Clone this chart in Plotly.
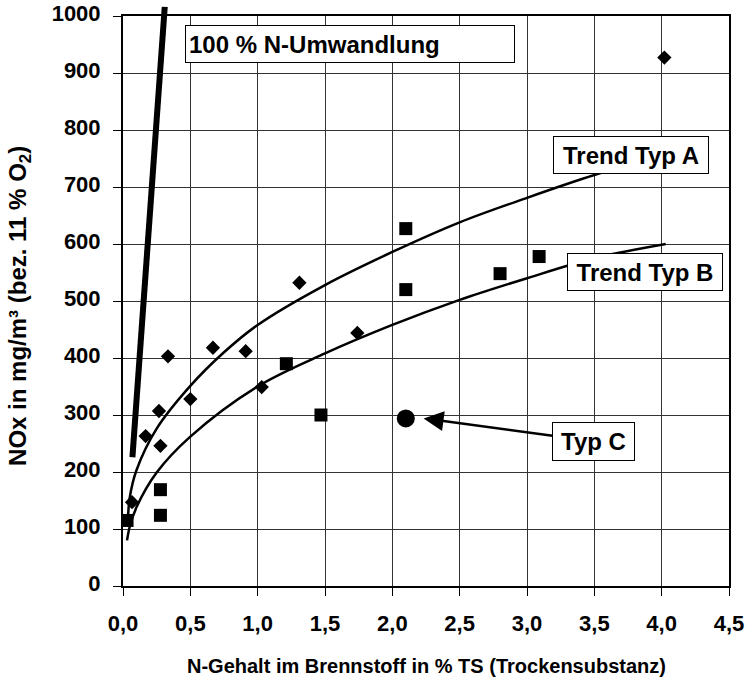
import plotly.graph_objects as go

# ---- data ----
typA_x = [0.067, 0.168, 0.267, 0.278, 0.334, 0.50, 0.668, 0.911, 1.03, 1.31, 1.74, 4.02]
typA_y = [147, 263, 307, 246, 403, 328, 418, 412, 349, 532, 444, 927]

typB_x = [0.03, 0.278, 0.278, 1.213, 1.47, 2.10, 2.10, 2.80, 3.09]
typB_y = [115, 169, 124, 390, 300, 627, 520, 548, 578]

typC_x = [2.10]
typC_y = [294]

trendA_x = [0.037, 0.05, 0.1, 0.25, 0.5, 0.75, 1.0, 1.5, 2.0, 2.5, 3.0, 3.5, 4.0]
trendA_y = [118, 155, 203, 276, 351, 410, 458, 528, 586, 638, 681, 721, 755]

trendB_x = [0.03, 0.05, 0.1, 0.25, 0.5, 1.0, 1.5, 2.0, 2.5, 3.0, 3.5, 4.03]
trendB_y = [80, 104, 138, 199, 262, 350, 408, 458, 502, 540, 575, 600]

umwandlung_x = [0.07, 0.31]
umwandlung_y = [226, 1016]

x_ticks = [0.0, 0.5, 1.0, 1.5, 2.0, 2.5, 3.0, 3.5, 4.0, 4.5]
y_ticks = [0, 100, 200, 300, 400, 500, 600, 700, 800, 900, 1000]

X_RANGE = [0, 4.5]
Y_RANGE = [0, 1000]

FONT = "Liberation Sans, Arial, sans-serif"

fig = go.Figure()

fig.add_trace(go.Scatter(x=trendA_x, y=trendA_y, mode="lines",
                         line=dict(color="black", width=2.5, shape="spline"),
                         showlegend=False, hoverinfo="skip"))
fig.add_trace(go.Scatter(x=trendB_x, y=trendB_y, mode="lines",
                         line=dict(color="black", width=2.5, shape="spline"),
                         showlegend=False, hoverinfo="skip"))

fig.add_trace(go.Scatter(x=typA_x, y=typA_y, mode="markers", name="Typ A",
                         marker=dict(symbol="diamond", size=11, color="black"),
                         showlegend=False))
fig.add_trace(go.Scatter(x=typB_x, y=typB_y, mode="markers", name="Typ B",
                         marker=dict(symbol="square", size=13, color="black"),
                         showlegend=False))
fig.add_trace(go.Scatter(x=typC_x, y=typC_y, mode="markers", name="Typ C",
                         marker=dict(symbol="circle", size=18, color="black"),
                         showlegend=False))


def to_px(v, rng):
    return (v - rng[0]) / (rng[1] - rng[0])


# thick 100 % line (extends slightly above the plot area, so draw in paper coords)
fig.add_shape(type="line", xref="paper", yref="paper",
              x0=to_px(umwandlung_x[0], X_RANGE), y0=to_px(umwandlung_y[0], Y_RANGE),
              x1=to_px(umwandlung_x[1], X_RANGE), y1=to_px(umwandlung_y[1], Y_RANGE),
              line=dict(color="black", width=6), layer="above")

ann_font = dict(family=FONT, size=24, color="black", weight="bold")

fig.add_annotation(x=0.458, y=984, xref="x", yref="y", xanchor="left", yanchor="top",
                   text="100 % N-Umwandlung", showarrow=False, font=ann_font,
                   width=322, height=30, align="left", valign="middle",
                   bgcolor="white", bordercolor="black", borderwidth=1, borderpad=3)

fig.add_annotation(x=3.19, y=789, xref="x", yref="y", xanchor="left", yanchor="top",
                   text="Trend Typ A", showarrow=False, font=ann_font,
                   width=148, height=30, align="center", valign="middle",
                   bgcolor="white", bordercolor="black", borderwidth=1, borderpad=3)

fig.add_annotation(x=3.295, y=584, xref="x", yref="y", xanchor="left", yanchor="top",
                   text="Trend Typ B", showarrow=False, font=ann_font,
                   width=148, height=30, align="center", valign="middle",
                   bgcolor="white", bordercolor="black", borderwidth=1, borderpad=3)

fig.add_annotation(x=2.232, y=294, xref="x", yref="y",
                   ax=3.494, ay=254, axref="x", ayref="y",
                   text="Typ C", showarrow=True, arrowhead=2, arrowsize=1.6,
                   arrowwidth=2.5, arrowcolor="black", standoff=0, startstandoff=0,
                   font=ann_font, width=75, height=31, align="center", valign="middle",
                   bgcolor="white", bordercolor="black", borderwidth=1, borderpad=3)

# axis titles
fig.add_annotation(x=-0.171, y=0.492, xref="paper", yref="paper",
                   xanchor="center", yanchor="middle", textangle=-90, showarrow=False,
                   text="NOx in mg/m³ (bez. 11 % O<sub>2</sub>)",
                   font=dict(family=FONT, size=24, color="black", weight="bold"))
fig.add_annotation(x=0.5, y=-0.1395, xref="paper", yref="paper",
                   xanchor="center", yanchor="middle", showarrow=False,
                   height=22, borderpad=0, valign="middle",
                   text="N-Gehalt im Brennstoff in % TS (Trockensubstanz)",
                   font=dict(family=FONT, size=20, color="black", weight="bold"))

tick_font = dict(family=FONT, size=22, color="black", weight="bold")

fig.update_xaxes(range=X_RANGE, tickvals=x_ticks, tickformat=".1f",
                 showgrid=True, gridcolor="#333333", gridwidth=1,
                 showline=True, linecolor="black", linewidth=2, mirror=True,
                 ticks="outside", ticklen=8, tickwidth=1, tickcolor="black",
                 tickfont=tick_font, zeroline=False, ticklabelstandoff=9,
                 ticklabeloverflow="allow", fixedrange=True)
fig.update_yaxes(range=Y_RANGE, tickvals=y_ticks, tickformat="d",
                 showgrid=True, gridcolor="#333333", gridwidth=1,
                 showline=True, linecolor="black", linewidth=2, mirror=True,
                 ticks="outside", ticklen=8, tickwidth=1, tickcolor="black",
                 tickfont=tick_font, zeroline=False, ticklabelshift=-3,
                 ticklabelstandoff=8, ticklabeloverflow="allow", fixedrange=True)

fig.update_layout(width=748, height=677, separators=",.",
                  margin=dict(l=123, r=19, t=16, b=91, autoexpand=False),
                  paper_bgcolor="white", plot_bgcolor="white",
                  font=dict(family=FONT, color="black"), showlegend=False)

# remove the default 8px page margin so the figure fills the window exactly
fig.write_html("out.html", config={"displayModeBar": False},
               post_script="document.body.style.margin='0px';document.body.style.padding='0px';")
